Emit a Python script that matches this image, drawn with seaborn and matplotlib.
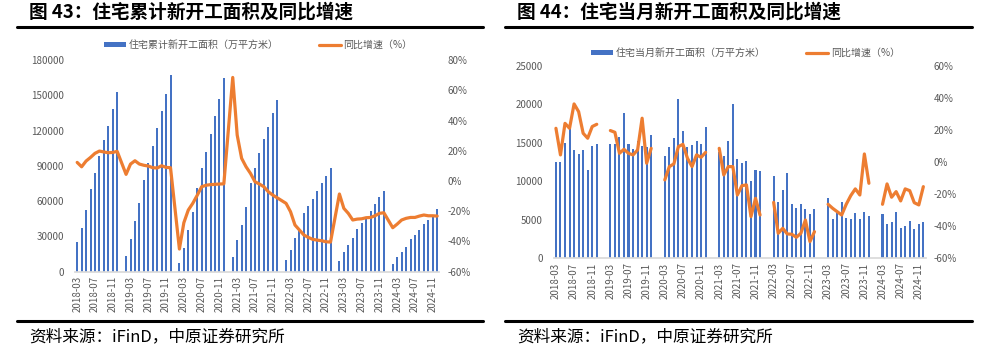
import numpy as np
import pandas as pd
import matplotlib
matplotlib.use("Agg")
import matplotlib.pyplot as plt
import seaborn as sns
from matplotlib.patches import Patch
from matplotlib.lines import Line2D

nan = np.nan

# monthly categories 2018-03 .. 2024-12
months = pd.period_range("2018-03", "2024-12", freq="M").strftime("%Y-%m").tolist()

# Fig 43: cumulative residential new starts (10k m2) and cumulative YoY (%)
cum_area = [25500, 37400, 52400, 70300, 84200, 98100, 112300, 123900, 138400, 153100,
            nan, 13300, 28100, 43100, 58700, 78000, 92400, 106900, 121900, 137000, 151400, 167600,
            nan, 7100, 20400, 35200, 50800, 71500, 88200, 102100, 116800, 132100, 147200, 164500,
            nan, 12200, 26700, 40000, 55000, 75100, 88500, 100700, 112900, 123300, 134700, 146000,
            nan, 9900, 18400, 28400, 36000, 49600, 56100, 61500, 68900, 75700, 81400, 87900,
            nan, 9400, 17000, 22700, 28400, 36000, 41100, 46800, 51900, 57300, 63800, 68600,
            nan, 6200, 12200, 16700, 21300, 27500, 31200, 35400, 40300, 44000, 48200, 53300]
cum_yoy = [12.3, 9.4, 13.2, 15.6, 18.3, 19.8, 19.2, 18.7, 18.9, 19.6,
           nan, 4.4, 11.2, 13.4, 11.2, 10.4, 9.9, 8.8, 8.6, 10.1, 9.0, 8.8,
           nan, -45.0, -27.6, -19.2, -14.8, -9.5, -3.8, -2.8, -2.4, -2.2, -2.0, -1.9,
           nan, 68.5, 30.4, 15.0, 9.4, 5.0, -0.5, -2.0, -3.8, -7.1, -9.3, -11.1,
           nan, -14.8, -20.3, -29.1, -32.4, -35.7, -37.3, -38.6, -39.1, -39.5, -40.2, -40.4,
           nan, -8.6, -18.1, -21.4, -25.8, -25.2, -25.0, -24.3, -24.1, -23.0, -21.4, -21.0,
           nan, -30.9, -28.5, -25.8, -24.7, -24.1, -24.1, -23.2, -22.5, -23.0, -23.0, -23.2]

# Fig 44: monthly residential new starts (10k m2) and monthly YoY (%)
mon_area = [12480, 12570, 15030, 16900, 14080, 13600, 14080, 11480, 14600, 14820,
            nan, nan, 14860, 14860, 15810, 18930, 14860, 14210, 15300, 14640, 14510, 16030,
            nan, nan, 13300, 14510, 15690, 20710, 16550, 14430, 14730, 15300, 14860, 17030,
            nan, nan, 13860, 13300, 15250, 20020, 12950, 12350, 12650, 10100, 11530, 11350,
            nan, nan, 10700, 7280, 8880, 11050, 7110, 6500, 7020, 6410, 5810, 6370,
            nan, nan, 7840, 5110, 5850, 7370, 5200, 5070, 5890, 5110, 6070, 5500,
            nan, nan, 5760, 4510, 4680, 5980, 3940, 4250, 4810, 3810, 4460, 4680]
mon_yoy = [21.1, 4.5, 24.2, 21.1, 36.3, 31.5, 18.0, 14.9, 22.2, 23.6,
           nan, nan, 19.7, 18.6, 5.5, 8.0, 5.5, 4.5, 7.6, 27.4, -0.7, 8.6,
           nan, nan, -11.1, -2.8, -1.1, 9.7, 11.1, 2.4, -2.8, 4.5, 3.0, 6.1,
           nan, nan, 8.6, -8.0, -2.8, -2.8, -20.5, -14.7, -14.2, -34.0, -22.6, -33.0,
           nan, nan, -25.1, -44.4, -41.3, -44.8, -45.0, -46.9, -44.4, -36.1, -49.6, -43.4,
           nan, nan, -26.3, -28.8, -30.9, -33.0, -26.3, -20.9, -16.7, -20.5, 5.1, -13.2,
           nan, nan, -26.3, -13.6, -21.9, -18.4, -24.2, -16.7, -17.8, -25.3, -26.7, -15.3]

BLUE = "#4472C4"
ORANGE = "#ED7D31"
GREY = "#595959"

sns.set_theme(style="white")
plt.rcParams["font.family"] = ["Noto Sans CJK SC", "DejaVu Sans"]

fig = plt.figure(figsize=(9.85, 3.51), dpi=100)


def draw_panel(rect, area, yoy, split_years, lticks, rticks, label_bar, legend_xy):
    ax = fig.add_axes(rect)
    df = pd.DataFrame({"month": months, "area": area, "yoy": yoy})
    df["pos"] = np.arange(len(df))
    df["year"] = df["month"].str[:4]

    sns.barplot(data=df, x="month", y="area", order=months, color=BLUE,
                width=0.45, saturation=1, linewidth=0, errorbar=None, ax=ax)

    ax2 = ax.twinx()
    line_df = df.dropna(subset=["yoy"])
    if split_years:
        # monthly series: no Jan/Feb data, line breaks each year
        sns.lineplot(data=line_df, x="pos", y="yoy", units="year", estimator=None,
                     color=ORANGE, lw=2.3, ax=ax2)
    else:
        sns.lineplot(data=line_df, x="pos", y="yoy", color=ORANGE, lw=2.3, ax=ax2)

    ax.set_xlim(-0.5, len(months) - 0.5)
    ax.set_ylim(lticks[0], lticks[-1])
    ax.set_yticks(lticks)
    ax2.set_ylim(rticks[0], rticks[-1])
    ax2.set_yticks(rticks)
    ax2.set_yticklabels([f"{int(t)}%" for t in rticks])

    ax.set_xticks(range(0, len(months), 4))
    ax.set_xticklabels(months[::4], rotation=90)

    for a in (ax, ax2):
        a.set_xlabel("")
        a.set_ylabel("")
        for s in a.spines.values():
            s.set_visible(False)
        a.tick_params(length=0, labelsize=7, labelcolor=GREY)
        a.grid(False)
    ax.spines["bottom"].set_visible(True)
    ax.spines["bottom"].set_color("#D9D9D9")
    ax.tick_params(axis="y", pad=8)
    ax.tick_params(axis="x", pad=3)
    ax2.tick_params(axis="y", pad=6)

    handles = [Patch(facecolor=BLUE, edgecolor="none"),
               Line2D([], [], color=ORANGE, lw=2.3)]
    fig.legend(handles, [label_bar, "同比增速（%）"], loc="center",
               bbox_to_anchor=legend_xy, ncol=2, frameon=False, fontsize=7.2,
               labelcolor=GREY, handlelength=2.2, handleheight=0.5,
               handletextpad=0.3, columnspacing=4)


draw_panel([0.0761, 0.2259, 0.370, 0.603], cum_area, cum_yoy, False,
           list(range(0, 180001, 30000)), list(range(-60, 81, 20)),
           "住宅累计新开工面积（万平方米）", (0.262, 0.872))
draw_panel([0.5621, 0.2641, 0.3776, 0.548], mon_area, mon_yoy, True,
           list(range(0, 25001, 5000)), list(range(-60, 61, 20)),
           "住宅当月新开工面积（万平方米）", (0.757, 0.849))

# titles, rules and source lines
for x0, x1, tx, title in [(17, 483, 29, "图 43：住宅累计新开工面积及同比增速"),
                          (505, 972, 517, "图 44：住宅当月新开工面积及同比增速")]:
    fig.text(tx / 985, 0.966, title, fontsize=13.4, fontweight="bold",
             ha="left", va="center", color="black")
    fig.add_artist(Line2D([x0 / 985, x1 / 985], [0.923, 0.923],
                          transform=fig.transFigure, color="black", lw=2.2))
    fig.add_artist(Line2D([x0 / 985, x1 / 985], [0.0855, 0.0855],
                          transform=fig.transFigure, color="black", lw=2.2))
    fig.text(tx / 985, 0.040, "资料来源：iFinD，中原证券研究所", fontsize=12,
             ha="left", va="center", color="black")

fig.savefig("out.png", dpi=100)
